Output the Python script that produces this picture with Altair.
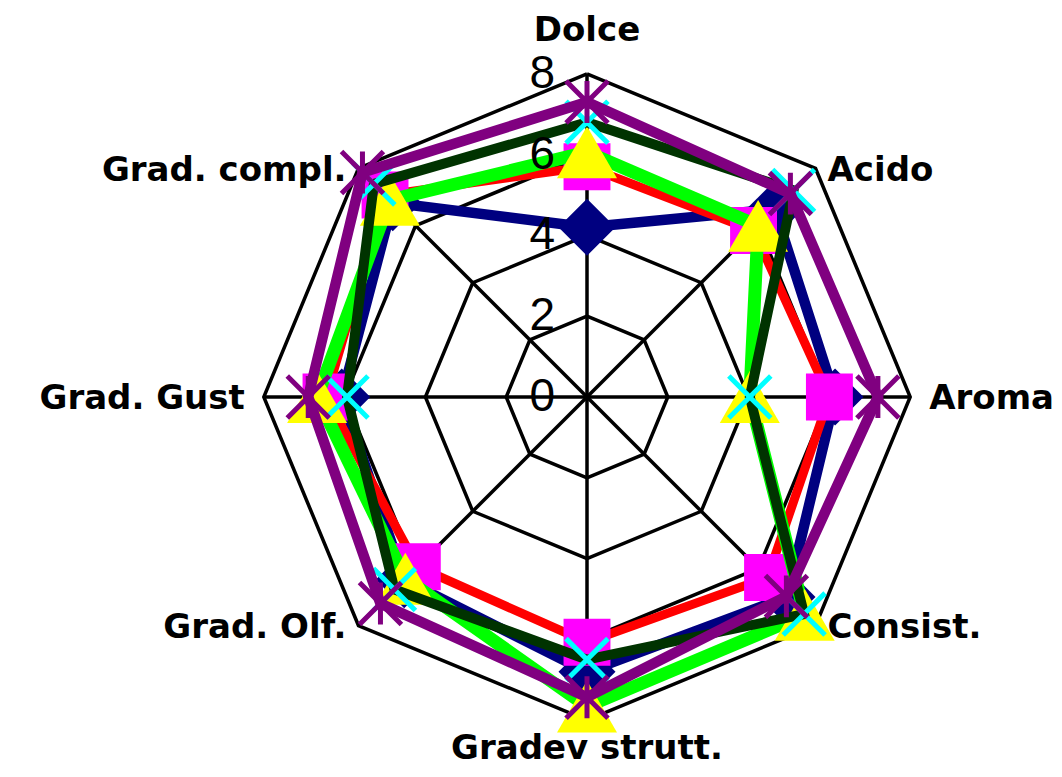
import altair as alt
import pandas as pd
import numpy as np

# ---- data ----
categories = ["Dolce", "Acido", "Aroma", "Consist.", "Gradev strutt.",
              "Grad. Olf.", "Grad. Gust", "Grad. compl."]
series_names = ["Serie 1", "Serie 2", "Serie 3", "Serie 4", "Serie 5"]
serie1 = [4.2, 6.57, 6.14, 7.0, 6.8, 6.4, 6.07, 6.8]
serie2 = [5.7, 5.83, 6.0, 6.32, 6.07, 5.94, 6.46, 7.07]
serie3 = [6.06, 5.99, 4.03, 7.62, 7.66, 6.36, 6.68, 6.9]
serie4 = [6.8, 7.23, 4.03, 7.6, 6.5, 6.74, 5.94, 7.46]
serie5 = [7.3, 7.12, 7.2, 6.98, 7.43, 7.23, 6.9, 7.86]
tick_values = [0, 2, 4, 6, 8]
ring_levels = [2, 4, 6, 8]
r_max = 8

# ---- geometry ----
PX = 40.4           # pixels per unit
W, H = 1046, 761
CX, CY = 579, 389   # centre inside plot area
LABEL_FS = 34
CAP_HALF = 0.729 * LABEL_FS / 2

n = len(categories)
angles = [np.deg2rad(90 - 360 / n * i) for i in range(n)]

xs = alt.Scale(domain=[-CX / PX, (W - CX) / PX], nice=False, zero=False)
ys = alt.Scale(domain=[-(H - CY) / PX, CY / PX], nice=False, zero=False)


def enc(**kw):
    return dict(x=alt.X("x:Q", scale=xs, axis=None),
                y=alt.Y("y:Q", scale=ys, axis=None), **kw)


# grid rings
ring_rows = []
for lv in ring_levels:
    for k in range(n + 1):
        a = angles[k % n]
        ring_rows.append(dict(level=lv, ord=k, x=lv * np.cos(a), y=lv * np.sin(a)))
rings = alt.Chart(pd.DataFrame(ring_rows)).mark_line(
    color="black", strokeWidth=3.5, strokeJoin="miter"
).encode(**enc(detail="level:N", order="ord:Q"))

# spokes
spoke_df = pd.DataFrame(dict(x=[0.0] * n, y=[0.0] * n,
                             x2=[r_max * np.cos(a) for a in angles],
                             y2=[r_max * np.sin(a) for a in angles]))
spokes = alt.Chart(spoke_df).mark_rule(color="black", strokeWidth=3.5).encode(
    **enc(x2="x2:Q", y2="y2:Q"))

# series
all_values = [serie1, serie2, serie3, serie4, serie5]
styles = [
    dict(line="#000080", lw=10.5, shape="diamond", mc="#000080", size=3250, filled=True),
    dict(line="#FF0000", lw=9, shape="square", mc="#FF00FF", size=2200, filled=True),
    dict(line="#00FF00", lw=13, shape="triangle-up", mc="#FFFF00", size=3600, filled=True),
    dict(line="#003300", lw=10, shape="M-1,-1L1,1M-1,1L1,-1", mc="#00FFFF", size=1760, filled=False),
    dict(line="#800080", lw=10.5, shape="M-1,-1L1,1M-1,1L1,-1M0,-1L0,1", mc="#800080", size=1760, filled=False),
]

series_layers = []
for name, vals, st in zip(series_names, all_values, styles):
    rows = []
    for k in range(n + 1):
        a = angles[k % n]
        v = vals[k % n]
        rows.append(dict(serie=name, cat=categories[k % n], ord=k,
                         x=v * np.cos(a), y=v * np.sin(a)))
    df = pd.DataFrame(rows)
    line = alt.Chart(df).mark_line(
        color=st["line"], strokeWidth=st["lw"], strokeJoin="miter"
    ).encode(**enc(order="ord:Q"))
    pts_df = df[df["ord"] < n]
    if st["filled"]:
        pts = alt.Chart(pts_df).mark_point(
            shape=st["shape"], size=st["size"], filled=True, fill=st["mc"],
            opacity=1, strokeWidth=0)
    else:
        pts = alt.Chart(pts_df).mark_point(
            shape=st["shape"], size=st["size"], filled=False, stroke=st["mc"],
            opacity=1, strokeWidth=5, strokeCap="butt")
    pts = pts.encode(**enc())
    series_layers += [line, pts]

# tick labels along the first axis
tick_df = pd.DataFrame(dict(label=[str(t) for t in tick_values],
                            x=[-32 / PX] * len(tick_values),
                            y=[float(t) for t in tick_values]))
ticks = alt.Chart(tick_df).mark_text(
    font="Liberation Sans", fontSize=46, align="right", baseline="middle",
    color="black").encode(**enc(text="label:N"))

# category labels (alphabetic baseline, positioned around the outer ring)
lab_rows = []
for i, (c, a) in enumerate(zip(categories, angles)):
    cx, cy = np.cos(a), np.sin(a)
    if abs(cx) < 1e-6:
        align = "center"
        ox = 0
        oy = (45 - CAP_HALF) if cy > 0 else -39
    else:
        align = "left" if cx > 0 else "right"
        gap = 19 if abs(cy) < 1e-6 else 12
        ox, oy = gap * np.sign(cx), -CAP_HALF
    lab_rows.append(dict(label=c, align=align,
                         x=r_max * cx + ox / PX, y=r_max * cy + oy / PX))
lab_df = pd.DataFrame(lab_rows)
label_layers = []
for al in ["left", "center", "right"]:
    sub = lab_df[lab_df["align"] == al]
    label_layers.append(alt.Chart(sub).mark_text(
        font="DejaVu Sans", fontSize=LABEL_FS, fontWeight="bold", align=al,
        baseline="alphabetic", color="black").encode(**enc(text="label:N")))

chart = alt.layer(rings, spokes, *series_layers, ticks, *label_layers).properties(
    width=W, height=H, padding=0, autosize=alt.AutoSizeParams(type="none")
).configure_view(stroke=None)

chart.save("out.html", embed_options={"renderer": "svg", "actions": False})
